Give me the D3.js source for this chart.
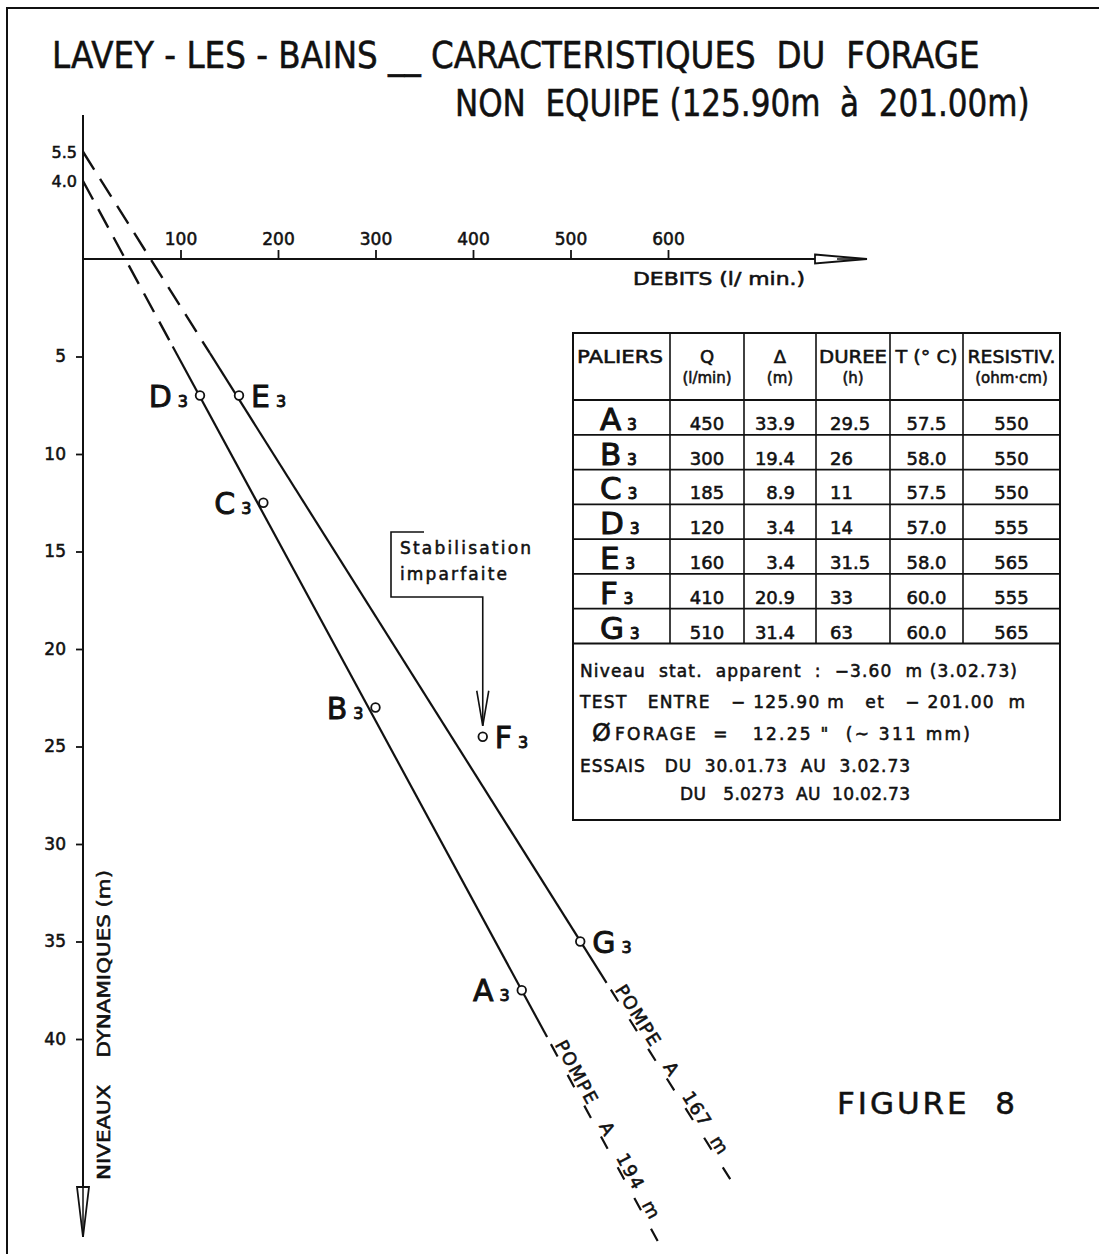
<!DOCTYPE html>
<html>
<head>
<meta charset="utf-8">
<script src="https://cdn.jsdelivr.net/npm/d3@7"></script>
<style>
  html, body { margin: 0; padding: 0; background: #fff; }
  svg { display: block; }
  text { font-family: "DejaVu Sans", "Noto Sans", sans-serif; fill: #111; stroke: #111; stroke-width: 0.55px; white-space: pre; }
</style>
</head>
<body>
<script>
// ---- Pumping steps (paliers) ----
const paliers      = ["A", "B", "C", "D", "E", "F", "G"];
const debits       = [450, 300, 185, 120, 160, 410, 510];          // Q (l/min)
const rabattements = [33.9, 19.4, 8.9, 3.4, 3.4, 20.9, 31.4];      // Δ (m)
const durees       = ["29.5", "26", "11", "14", "31.5", "33", "63"]; // h
const temperatures = ["57.5", "58.0", "57.5", "57.0", "58.0", "60.0", "60.0"]; // °C
const resistivites = ["550", "550", "550", "555", "565", "555", "565"]; // ohm·cm
const niveauStatique = 3.60;   // apparent static level (m below ground)
const cotesEtiquette = ["left", "left", "left", "left", "right", "right", "right"];

// ---- Characteristic lines: pump at 194 m (A,B,C,D) and at 167 m (E,G) ----
const pompes      = ["194", "167"];
const interceptes = [4.0, 5.5];     // level reached at Q = 0 (m above ground)
const finQ        = [592, 669];     // Q where each line stops
const finNiveau   = [50.6, 47.6];   // level where each line stops
const tiretsJusqua = [92, 130];     // extrapolated (dashed) part up to this Q
const traitJusqua  = [476, 537];    // continuous part up to this Q

// ---- Axis ticks ----
const xTicks = [100, 200, 300, 400, 500, 600];
const yTicks = [5, 10, 15, 20, 25, 30, 35, 40];

// ---- Notes in the lower part of the table ----
const notes = [
  "Niveau  stat.  apparent  :  \u22123.60  m (3.02.73)",
  "TEST   ENTRE   \u2212 125.90 m   et   \u2212 201.00  m",
  "FORAGE  =   12.25 \"  (~ 311 mm)",
  "ESSAIS   DU  30.01.73  AU  3.02.73",
  "DU   5.0273  AU  10.02.73"
];

const W = 1099, H = 1254;
const INK = "#111";
const svg = d3.select("body").append("svg").attr("width", W).attr("height", H);

// outer frame (left and top edges)
svg.append("path").attr("d", "M7,1254 V8 H1099")
  .attr("fill", "none").attr("stroke", INK).attr("stroke-width", 2);

// narrow lettering: text drawn at its natural size then squeezed to a given width
function condensed(str, x0, y0, size, width) {
  const t = svg.append("text").attr("font-size", size).text(str);
  const w = t.node().getComputedTextLength();
  t.attr("transform", `translate(${x0},${y0}) scale(${width / w},1)`);
  return t;
}
condensed("LAVEY - LES - BAINS __ CARACTERISTIQUES  DU  FORAGE", 52, 68, 37, 928);
condensed("NON  EQUIPE (125.90m  à  201.00m)", 455, 116, 37, 575);

// scales
const x = d3.scaleLinear().domain([0, 600]).range([83, 668]);
const y = d3.scaleLinear().domain([0, 40]).range([259, 1039]);

// ---- X axis (débits) ----
const gx = svg.append("g").attr("transform", `translate(0,${y(0)})`)
  .call(d3.axisTop(x).tickValues(xTicks).tickSize(9).tickPadding(5).tickSizeOuter(0));
gx.select(".domain").remove();
gx.attr("font-family", null).attr("font-size", 17).attr("color", INK);
gx.selectAll(".tick line").attr("stroke-width", 1.8);

const xEnd = 867;
svg.append("line").attr("x1", x(0)).attr("x2", xEnd).attr("y1", y(0)).attr("y2", y(0))
  .attr("stroke", INK).attr("stroke-width", 2);
svg.append("path")
  .attr("d", `M${xEnd - 52},${y(0) - 4.5} L${xEnd},${y(0)} L${xEnd - 52},${y(0) + 4.5} Z`)
  .attr("fill", "#fff").attr("stroke", INK).attr("stroke-width", 1.8);
svg.append("line").attr("x1", xEnd - 30).attr("x2", xEnd).attr("y1", y(0)).attr("y2", y(0))
  .attr("stroke", INK).attr("stroke-width", 1.5);
svg.append("text").attr("x", 633).attr("y", 285).attr("font-size", 17)
  .attr("textLength", 172).attr("lengthAdjust", "spacingAndGlyphs")
  .text("DEBITS (l/ min.)");

// ---- Y axis (niveaux dynamiques) ----
const gy = svg.append("g").attr("transform", `translate(${x(0)},0)`)
  .call(d3.axisLeft(y).tickValues(yTicks).tickSize(7).tickPadding(10).tickSizeOuter(0));
gy.select(".domain").remove();
gy.attr("font-family", null).attr("font-size", 17).attr("color", INK);
gy.selectAll(".tick line").attr("stroke-width", 1.8);

const yTop = 115, yEnd = 1237;
svg.append("line").attr("x1", x(0)).attr("x2", x(0)).attr("y1", yTop).attr("y2", yEnd)
  .attr("stroke", INK).attr("stroke-width", 2);
svg.append("path")
  .attr("d", `M${x(0) - 6},${yEnd - 50} L${x(0)},${yEnd} L${x(0) + 6},${yEnd - 50} Z`)
  .attr("fill", "#fff").attr("stroke", INK).attr("stroke-width", 1.8);
svg.append("line").attr("x1", x(0)).attr("x2", x(0)).attr("y1", yEnd - 50).attr("y2", yEnd)
  .attr("stroke", INK).attr("stroke-width", 1.5);
svg.append("text").attr("transform", `translate(110,1180) rotate(-90)`).attr("font-size", 18)
  .attr("textLength", 310).attr("lengthAdjust", "spacingAndGlyphs")
  .text("NIVEAUX    DYNAMIQUES (m)");

// intercept values above ground
svg.selectAll(".intercept").data(interceptes).join("text")
  .attr("class", "intercept")
  .attr("x", 77).attr("y", d => y(-d)).attr("dy", "0.36em")
  .attr("text-anchor", "end").attr("font-size", 16)
  .text(d => d3.format(".1f")(d));

// ---- Characteristic lines ----
const niveauSurLigne = (i, q) => -interceptes[i] + (finNiveau[i] + interceptes[i]) * q / finQ[i];
const ligne = d3.line().x(d => x(d[0])).y(d => y(d[1]));
const segment = (i, q0, q1) => ligne([[q0, niveauSurLigne(i, q0)], [q1, niveauSurLigne(i, q1)]]);

pompes.forEach((p, i) => {
  // extrapolation towards Q = 0
  svg.append("path").attr("d", segment(i, 0, tiretsJusqua[i]))
    .attr("fill", "none").attr("stroke", INK).attr("stroke-width", 2.4)
    .attr("stroke-dasharray", "21,11");
  // measured part
  svg.append("path").attr("d", segment(i, tiretsJusqua[i], traitJusqua[i]))
    .attr("fill", "none").attr("stroke", INK).attr("stroke-width", 2.2);
  // broken tail carrying the pump label
  svg.append("path").attr("d", segment(i, traitJusqua[i], finQ[i]))
    .attr("fill", "none").attr("stroke", INK).attr("stroke-width", 2.2)
    .attr("stroke-dasharray", "14,21").attr("stroke-dashoffset", 27);

  const x0 = x(traitJusqua[i]), y0 = y(niveauSurLigne(i, traitJusqua[i]));
  const x1 = x(finQ[i]), y1 = y(niveauSurLigne(i, finQ[i]));
  const ang = Math.atan2(y1 - y0, x1 - x0) * 180 / Math.PI;
  svg.append("text")
    .attr("transform", `translate(${x0},${y0}) rotate(${ang})`)
    .attr("x", 10).attr("y", -3).attr("font-size", 18)
    .attr("textLength", i === 0 ? 200 : 196).attr("lengthAdjust", "spacing")
    .text(`POMPE   A   ${p}  m`);
});

// ---- Steps as points ----
const points = paliers.map((p, i) => ({
  p, q: debits[i], niveau: rabattements[i] + niveauStatique, cote: cotesEtiquette[i]
}));

const gp = svg.append("g");
gp.selectAll("circle").data(points).join("circle")
  .attr("cx", d => x(d.q)).attr("cy", d => y(d.niveau)).attr("r", 4.3)
  .attr("fill", "#fff").attr("stroke", INK).attr("stroke-width", 1.8);

const lab = gp.selectAll("text.lab").data(points).join("text")
  .attr("class", "lab")
  .attr("x", d => d.cote === "left" ? x(d.q) - 12 : x(d.q) + 12)
  .attr("y", d => y(d.niveau) + 11)
  .attr("text-anchor", d => d.cote === "left" ? "end" : "start")
  .attr("font-size", 30).style("stroke-width", "0.9px");
lab.append("tspan").text(d => d.p);
lab.append("tspan").attr("dx", 6).attr("font-size", 16).text("3");

// ---- "Stabilisation imparfaite" call-out on F ----
const pf = points.find(d => d.p === "F");
const fx = x(pf.q), fy = y(pf.niveau);
svg.append("path")
  .attr("d", `M424,532 H391 V597 H${fx} V${fy - 11}`)
  .attr("fill", "none").attr("stroke", INK).attr("stroke-width", 1.6);
svg.append("path")
  .attr("d", `M${fx - 6},${fy - 46} L${fx},${fy - 11} L${fx + 6},${fy - 46}`)
  .attr("fill", "none").attr("stroke", INK).attr("stroke-width", 1.6);
svg.append("text").attr("x", 400).attr("y", 554).attr("font-size", 17)
  .attr("textLength", 131).attr("lengthAdjust", "spacing").text("Stabilisation");
svg.append("text").attr("x", 400).attr("y", 580).attr("font-size", 17)
  .attr("textLength", 107).attr("lengthAdjust", "spacing").text("imparfaite");

// ---- Table ----
const colX = [573, 670, 744, 816, 890, 963, 1060];
const tTop = 333, tHead = 400, tBottom = 820;
const rows = d3.scaleBand().domain(paliers).range([tHead, 643.5]);
const tRowsEnd = rows.range()[1];

const gt = svg.append("g");
gt.append("rect").attr("x", colX[0]).attr("y", tTop)
  .attr("width", colX[6] - colX[0]).attr("height", tBottom - tTop)
  .attr("fill", "#fff").attr("stroke", INK).attr("stroke-width", 2);
colX.slice(1, 6).forEach(cx => gt.append("line")
  .attr("x1", cx).attr("x2", cx).attr("y1", tTop).attr("y2", tRowsEnd)
  .attr("stroke", INK).attr("stroke-width", 1.6));
[tHead, ...paliers.map(p => rows(p) + rows.bandwidth())].forEach(ry => gt.append("line")
  .attr("x1", colX[0]).attr("x2", colX[6]).attr("y1", ry).attr("y2", ry)
  .attr("stroke", INK).attr("stroke-width", 1.8));

const head1 = ["PALIERS", "Q", "\u0394", "DUREE", "T (\u00b0 C)", "RESISTIV."];
const head2 = ["", "(l/min)", "(m)", "(h)", "", "(ohm\u00b7cm)"];
const mid = i => (colX[i] + colX[i + 1]) / 2;
head1.forEach((t, i) => gt.append("text")
  .attr("x", i === 0 ? 577 : mid(i)).attr("y", 363)
  .attr("text-anchor", i === 0 ? "start" : "middle").attr("font-size", 18)
  .attr("textLength", [86, null, null, 68, 62, 88][i])
  .attr("lengthAdjust", "spacingAndGlyphs")
  .text(t));
head2.forEach((t, i) => { if (t) gt.append("text")
  .attr("x", mid(i)).attr("y", 383).attr("text-anchor", "middle").attr("font-size", 15)
  .text(t); });

paliers.forEach((p, k) => {
  const base = rows(p) + rows.bandwidth() - 5;
  const t = gt.append("text").attr("x", 600).attr("y", base).attr("font-size", 31)
    .style("stroke-width", "1px");
  t.append("tspan").text(p);
  t.append("tspan").attr("dx", 6).attr("font-size", 15).text("3");
  gt.append("text").attr("x", mid(1)).attr("y", base).attr("text-anchor", "middle")
    .attr("font-size", 18).text(debits[k]);
  gt.append("text").attr("x", 795).attr("y", base).attr("text-anchor", "end")
    .attr("font-size", 18).text(d3.format(".1f")(rabattements[k]));
  gt.append("text").attr("x", 830).attr("y", base).attr("text-anchor", "start")
    .attr("font-size", 18).text(durees[k]);
  gt.append("text").attr("x", mid(4)).attr("y", base).attr("text-anchor", "middle")
    .attr("font-size", 18).text(temperatures[k]);
  gt.append("text").attr("x", mid(5)).attr("y", base).attr("text-anchor", "middle")
    .attr("font-size", 18).text(resistivites[k]);
});

// notes
const noteX = [580, 580, 615, 580, 680];
const noteY = [677, 708, 740, 772, 800];
const noteW = [437, 445, 355, 330, 230];
notes.forEach((t, i) => gt.append("text")
  .attr("x", noteX[i]).attr("y", noteY[i]).attr("font-size", 17)
  .attr("textLength", noteW[i]).attr("lengthAdjust", "spacing").text(t));
gt.append("text").attr("x", 592).attr("y", 741).attr("font-size", 24).text("\u00d8");

// figure number
svg.append("text").attr("x", 837).attr("y", 1114).attr("font-size", 31)
  .attr("textLength", 178).attr("lengthAdjust", "spacing").text("FIGURE  8");
</script>
</body>
</html>
